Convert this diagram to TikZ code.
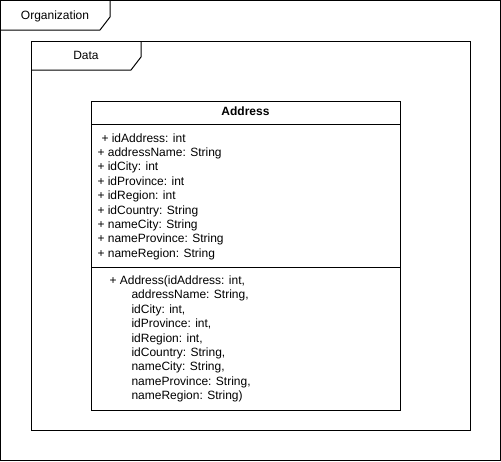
\documentclass[tikz,border=0pt]{standalone}
\usepackage{fontspec}
\setmainfont{Liberation Sans}

\tikzset{
	member/.style={anchor=base west, inner sep=0pt, font=\fontsize{12}{14.4}\selectfont},
	tabname/.style={anchor=base, inner sep=0pt, font=\fontsize{12}{14.4}\selectfont},
	classbox/.style={draw, inner sep=0pt, outer sep=0pt, minimum width=309pt, minimum height=309pt},
}

\begin{document}
\begin{tikzpicture}[x=1pt, y=-1pt, line width=1pt]
	\useasboundingbox (0,0) rectangle (501,461);

	% Organization package
	\draw (0.5,0.5) rectangle (500,460);
	\draw (0.5,30) -- (100,30) -- (110,17) -- (110,0.5);
	\node[tabname]	(orgname)	at (55,19)	{Organization};

	% Data package
	\draw (31,41) rectangle (470,430);
	\draw (31,70) -- (131,70) -- (141,57) -- (141,41);
	\node[tabname]	(dataname)	at (86,59)	{Data};

	% Address class
	\node[classbox]	(address)	at (245.5,255.5)	{};
	\draw (address.west |- 0,124) -- (address.east |- 0,124);
	\draw (address.west |- 0,267) -- (address.east |- 0,267);
	\node[tabname, font=\fontsize{12}{14.4}\selectfont\bfseries]	(classname)	at (245.5,115.5)	{Address};

	\node[member]	(a1)	at (101,142)	{+ idAddress: int};
	\node[member]	(a2)	at (97,156.4)	{+ addressName: String};
	\node[member]	(a3)	at (97,170.8)	{+ idCity: int};
	\node[member]	(a4)	at (97,185.2)	{+ idProvince: int};
	\node[member]	(a5)	at (97,199.6)	{+ idRegion: int};
	\node[member]	(a6)	at (97,214)		{+ idCountry: String};
	\node[member]	(a7)	at (97,228.4)	{+ nameCity: String};
	\node[member]	(a8)	at (97,242.8)	{+ nameProvince: String};
	\node[member]	(a9)	at (97,257.2)	{+ nameRegion: String};

	\node[member]	(m1)	at (109,284.5)	{+ Address(idAddress: int,};
	\node[member]	(m2)	at (131,298.9)	{addressName: String,};
	\node[member]	(m3)	at (131,313.3)	{idCity: int,};
	\node[member]	(m4)	at (131,327.7)	{idProvince: int,};
	\node[member]	(m5)	at (131,342.1)	{idRegion: int,};
	\node[member]	(m6)	at (131,356.5)	{idCountry: String,};
	\node[member]	(m7)	at (131,370.9)	{nameCity: String,};
	\node[member]	(m8)	at (131,385.3)	{nameProvince: String,};
	\node[member]	(m9)	at (131,399.7)	{nameRegion: String)};
\end{tikzpicture}
\end{document}
